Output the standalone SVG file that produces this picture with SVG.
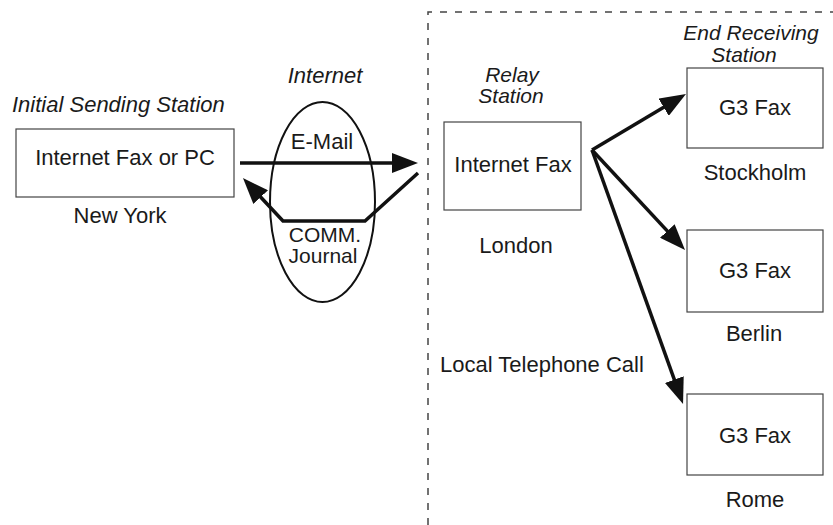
<svg xmlns="http://www.w3.org/2000/svg" width="833" height="525" viewBox="0 0 833 525">
<defs>
<style>
text{font-family:"Liberation Sans",Arial,sans-serif;font-size:22px;fill:#1a1a1a}
.it{font-style:italic}
.m{text-anchor:middle}
.st{font-size:21px}
.box{fill:#fff;stroke:#444;stroke-width:1.2}
.conn{fill:none;stroke:#111;stroke-width:3.5;stroke-linejoin:miter}
.dash{fill:none;stroke:#444;stroke-width:1.5;stroke-dasharray:7 8}
</style>
<marker id="ah" markerUnits="userSpaceOnUse" markerWidth="26" markerHeight="20" refX="6" refY="10" orient="auto" viewBox="0 0 26 20">
<path d="M0,0 L26,10 L0,20 z" fill="#111"/>
</marker>
</defs>
<rect width="833" height="525" fill="#fff"/>
<path class="dash" d="M428,525 L428,12 L833,12"/>
<g id="ellipse-internet">
<ellipse cx="322.5" cy="202" rx="52.5" ry="100" fill="none" stroke="#111" stroke-width="2"/>
<text class="it m" x="325" y="83">Internet</text>
<text class="m" x="322" y="149">E-Mail</text>
<text class="m st" x="325" y="242">COMM.</text>
<text class="m st" x="323" y="263">Journal</text>
</g>
<g id="node-sending">
<text class="it" x="12" y="112">Initial Sending Station</text>
<rect class="box" x="16" y="129" width="218" height="68"/>
<text class="m" x="125" y="165">Internet Fax or PC</text>
<text class="m" x="120" y="223">New York</text>
</g>
<g id="node-relay">
<text class="it m st" x="512" y="82">Relay</text>
<text class="it m st" x="511" y="103">Station</text>
<rect class="box" x="444" y="122" width="137" height="88"/>
<text class="m" x="513" y="172">Internet Fax</text>
<text class="m" x="516" y="253">London</text>
<text x="440" y="372">Local Telephone Call</text>
</g>
<g id="node-stockholm">
<text class="it m st" x="751" y="40">End Receiving</text>
<text class="it m st" x="744" y="62">Station</text>
<rect class="box" x="687" y="68" width="136" height="80"/>
<text class="m" x="755" y="115">G3 Fax</text>
<text class="m" x="755" y="180">Stockholm</text>
</g>
<g id="node-berlin">
<rect class="box" x="687" y="230" width="136" height="82"/>
<text class="m" x="755" y="278">G3 Fax</text>
<text class="m" x="754" y="341">Berlin</text>
</g>
<g id="node-rome">
<rect class="box" x="687" y="394" width="136" height="81"/>
<text class="m" x="755" y="443">G3 Fax</text>
<text class="m" x="755" y="507">Rome</text>
</g>
<g id="connectors">
<path class="conn" d="M240,163 L398,163" marker-end="url(#ah)"/>
<path class="conn" d="M418,173 L365,221 L283,221 L256.6,192.7" marker-end="url(#ah)"/>
<path class="conn" d="M592,150 L668.8,104.2" marker-end="url(#ah)"/>
<path class="conn" d="M592,150 L671.4,235.4" marker-end="url(#ah)"/>
<path class="conn" d="M592,150 L676.3,385.2" marker-end="url(#ah)"/>
</g>
</svg>
